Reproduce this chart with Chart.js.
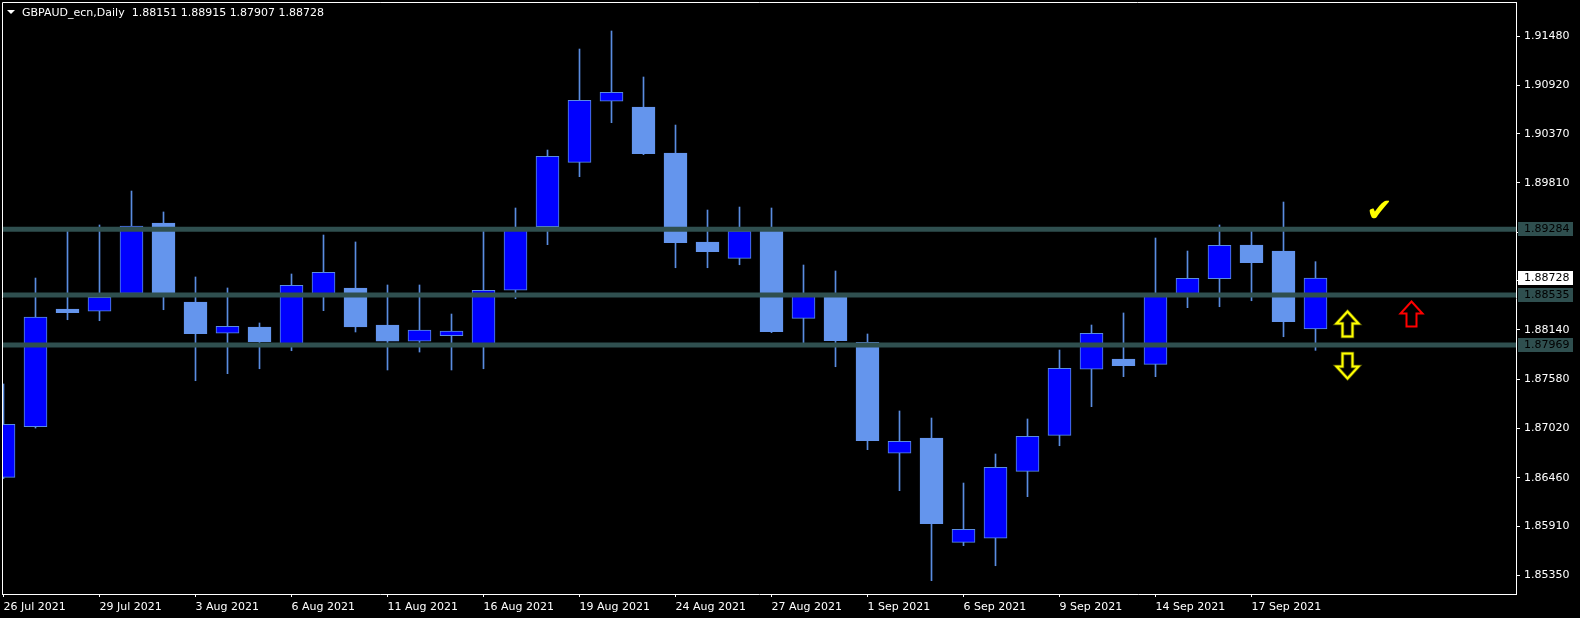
<!DOCTYPE html>
<html><head><meta charset="utf-8">
<script src="https://cdn.jsdelivr.net/npm/chart.js@4.4.0/dist/chart.umd.min.js"></script>
<style>html,body{margin:0;padding:0;background:#000;}canvas{display:block}</style>
</head><body>
<canvas id="c" width="1580" height="618"></canvas>
<script>
const chartTitle = 'GBPAUD_ecn,Daily';
const titleOHLC = ['1.88151', '1.88915', '1.87907', '1.88728'];

const dates = ['26 Jul 2021','27 Jul 2021','28 Jul 2021','29 Jul 2021','30 Jul 2021',
  '2 Aug 2021','3 Aug 2021','4 Aug 2021','5 Aug 2021','6 Aug 2021',
  '9 Aug 2021','10 Aug 2021','11 Aug 2021','12 Aug 2021','13 Aug 2021',
  '16 Aug 2021','17 Aug 2021','18 Aug 2021','19 Aug 2021','20 Aug 2021',
  '23 Aug 2021','24 Aug 2021','25 Aug 2021','26 Aug 2021','27 Aug 2021',
  '30 Aug 2021','31 Aug 2021','1 Sep 2021','2 Sep 2021','3 Sep 2021',
  '6 Sep 2021','7 Sep 2021','8 Sep 2021','9 Sep 2021','10 Sep 2021',
  '13 Sep 2021','14 Sep 2021','15 Sep 2021','16 Sep 2021','17 Sep 2021',
  '20 Sep 2021','21 Sep 2021'];

const opens  = [1.86464,1.87039,1.88377,1.88351,1.88555,1.89355,1.88457,1.88101,1.88172,1.87956,
                1.88548,1.88616,1.88195,1.88011,1.88074,1.87979,1.88590,1.89312,1.90044,1.90738,
                1.90673,1.90150,1.89139,1.88953,1.89298,1.88271,1.88536,1.87998,1.86737,1.86911,
                1.85725,1.85771,1.86532,1.86941,1.87692,1.87809,1.87748,1.88548,1.88721,1.89104,
                1.89036,1.88151];
const highs  = [1.87525,1.88729,1.89275,1.89332,1.89718,1.89480,1.88741,1.88616,1.88218,1.88775,
                1.89218,1.89139,1.88650,1.88650,1.88320,1.89286,1.89525,1.90184,1.91332,1.91537,
                1.91014,1.90468,1.89502,1.89536,1.89525,1.88877,1.88809,1.88093,1.87218,1.87138,
                1.86399,1.86729,1.87127,1.87911,1.88195,1.88332,1.89184,1.89036,1.89332,1.89286,
                1.89593,1.88915];
const lows   = [1.86450,1.87024,1.88255,1.88244,1.88530,1.88369,1.87562,1.87642,1.87698,1.87903,
                1.88358,1.88116,1.87684,1.87888,1.87684,1.87698,1.88494,1.89108,1.89881,1.90495,
                1.90131,1.88846,1.88846,1.88880,1.88108,1.87991,1.87721,1.86778,1.86312,1.85289,
                1.85687,1.85459,1.86244,1.86823,1.87267,1.87608,1.87608,1.88392,1.88403,1.88471,
                1.88062,1.87907];
const closes = [1.87066,1.88286,1.88335,1.88510,1.89320,1.88555,1.88096,1.88180,1.88002,1.88646,
                1.88794,1.88172,1.88011,1.88138,1.88127,1.88590,1.89298,1.90113,1.90749,1.90840,
                1.90142,1.89131,1.89028,1.89264,1.88119,1.88536,1.88017,1.86880,1.86873,1.85937,
                1.85873,1.86578,1.86930,1.87703,1.88101,1.87733,1.88536,1.88726,1.89101,1.88903,
                1.88233,1.88728];

const xTickLabels = ['26 Jul 2021','29 Jul 2021','3 Aug 2021','6 Aug 2021','11 Aug 2021',
  '16 Aug 2021','19 Aug 2021','24 Aug 2021','27 Aug 2021','1 Sep 2021','6 Sep 2021',
  '9 Sep 2021','14 Sep 2021','17 Sep 2021'];
const yTickValues = [1.91480,1.90920,1.90370,1.89810,1.89250,1.88700,1.88140,
                     1.87580,1.87020,1.86460,1.85910,1.85350];

const levels = [1.89284, 1.88535, 1.87969];
const lastPrice = 1.88728;

// signal objects anchored at (bar index, price)
const signalBar   = [42, 42, 44, 43];
const signalPrice = [1.88210, 1.87740, 1.88320, 1.89480];
const signalKind  = ['up', 'down', 'up', 'check'];
const signalColor = ['#FFFF00', '#FFFF00', '#FF0000', '#FFFF00'];

const BULL = '#0000FF', BEAR = '#6495ED', WICK = '#5A8CE0', LEVEL = '#2F4F4F';
const FONT = '"DejaVu Sans"';

const idx = dates.map((d, i) => i);
const isBull = idx.map(i => closes[i] >= opens[i]);
const X_MIN = -0.046875, X_MAX = 47.265625;

const noPad = a => { a.paddingTop = 0; a.paddingBottom = 0; a.paddingLeft = 0; a.paddingRight = 0; };

const overlay = {
  id: 'overlay',
  afterDraw(chart) {
    const ctx = chart.ctx;
    const ca = chart.chartArea;
    const ys = chart.scales.y, xs = chart.scales.x;
    ctx.save();
    // frame (left & top)
    ctx.strokeStyle = '#FFFFFF'; ctx.lineWidth = 1;
    ctx.beginPath();
    ctx.moveTo(ca.left + 0.5, ca.bottom); ctx.lineTo(ca.left + 0.5, ca.top + 0.5);
    ctx.lineTo(ca.right, ca.top + 0.5);
    ctx.stroke();
    // title
    ctx.fillStyle = '#FFFFFF';
    ctx.beginPath(); ctx.moveTo(7, 10); ctx.lineTo(15, 10); ctx.lineTo(11, 14); ctx.closePath(); ctx.fill();
    ctx.font = '11px ' + FONT; ctx.textBaseline = 'alphabetic'; ctx.textAlign = 'left';
    ctx.fillText(chartTitle + '  ' + titleOHLC.join(' '), 22, 16);
    // level labels
    ctx.textBaseline = 'middle';
    const box = (v, bg) => {
      const y = Math.round(ys.getPixelForValue(v));
      ctx.fillStyle = bg; ctx.fillRect(ca.right + 2, y - 7, 55, 14);
      ctx.fillStyle = '#000000'; ctx.fillText(v.toFixed(5), ca.right + 8, y);
    };
    levels.forEach(v => box(v, LEVEL));
    box(lastPrice, '#FFFFFF');
    // signals
    ctx.beginPath(); ctx.rect(ca.left, ca.top, ca.right - ca.left, ca.bottom - ca.top); ctx.clip();
    signalKind.forEach((k, i) => {
      const cx = xs.getPixelForValue(signalBar[i]);
      const cy = Math.round(ys.getPixelForValue(signalPrice[i])) + 0.5;
      if (k === 'check') {
        ctx.fillStyle = signalColor[i];
        ctx.font = 'bold 32px ' + FONT; ctx.textAlign = 'center'; ctx.textBaseline = 'middle';
        ctx.fillText('\u2714', cx, cy);
        return;
      }
      const s = k === 'up' ? 1 : -1;
      const pts = [[0, -13], [11, -1], [5, -1], [5, 12], [-5, 12], [-5, -1], [-11, -1]];
      ctx.beginPath();
      pts.forEach((p, j) => {
        const px = cx + p[0], py = cy + s * p[1];
        if (j === 0) ctx.moveTo(px, py); else ctx.lineTo(px, py);
      });
      ctx.closePath();
      ctx.lineJoin = 'miter';
      if (signalColor[i] === '#FFFF00') {
        ctx.strokeStyle = '#5a5a00'; ctx.lineWidth = 3.5; ctx.stroke();
      }
      ctx.strokeStyle = signalColor[i]; ctx.lineWidth = 2; ctx.stroke();
    });
    ctx.restore();
  }
};

new Chart(document.getElementById('c'), {
  type: 'bar',
  data: {
    datasets: [
      ...levels.map(v => ({
        type: 'line',
        data: [{x: X_MIN, y: v}, {x: X_MAX, y: v}],
        borderColor: LEVEL, borderWidth: 5, pointRadius: 0, order: 0
      })),
      {
        type: 'bar',
        data: idx.map(i => ({x: i, y: [opens[i], closes[i]]})),
        backgroundColor: idx.map(i => isBull[i] ? BULL : BEAR),
        borderColor: idx.map(i => isBull[i] ? WICK : BEAR),
        borderWidth: 1, borderSkipped: false, barThickness: 23, grouped: false, order: 1
      },
      {
        type: 'bar',
        data: idx.map(i => ({x: i, y: [lows[i], highs[i]]})),
        backgroundColor: WICK, borderWidth: 0, barThickness: 1, grouped: false, order: 2
      }
    ]
  },
  options: {
    responsive: false, animation: false, devicePixelRatio: 1,
    layout: {padding: {left: 2, top: 2, right: 0, bottom: 0}},
    plugins: {legend: {display: false}, tooltip: {enabled: false}, title: {display: false}},
    scales: {
      x: {
        type: 'linear', min: X_MIN, max: X_MAX, offset: false,
        afterBuildTicks: a => { a.ticks = xTickLabels.map(l => ({value: dates.indexOf(l)})); },
        afterFit: a => { a.height = 24; noPad(a); },
        grid: {drawOnChartArea: false, offset: false, tickLength: 3, color: '#FFFFFF'},
        border: {display: true, color: '#FFFFFF'},
        ticks: {color: '#FFFFFF', font: {family: 'DejaVu Sans', size: 11}, align: 'start',
                autoSkip: false, maxRotation: 0, minRotation: 0, padding: 4,
                callback: v => dates[v]}
      },
      y: {
        type: 'linear', position: 'right', min: 1.851377, max: 1.918665,
        afterBuildTicks: a => { a.ticks = yTickValues.map(v => ({value: v})); },
        afterFit: a => { a.width = 64; noPad(a); },
        grid: {drawOnChartArea: false, tickLength: 4, color: '#FFFFFF'},
        border: {display: true, color: '#FFFFFF'},
        ticks: {color: '#FFFFFF', font: {family: 'DejaVu Sans', size: 11}, padding: 4,
                callback: v => v.toFixed(5)}
      }
    }
  },
  plugins: [overlay]
});
</script>
</body></html>
